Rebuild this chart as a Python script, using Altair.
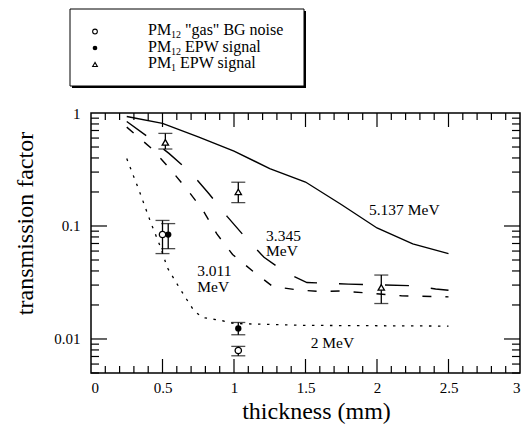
import altair as alt
import pandas as pd

# ---- curves: transmission factor vs. absorber thickness ----
e5137_x = [0.25, 0.5, 0.75, 1.0, 1.25, 1.5, 1.75, 2.0, 2.25, 2.5]
e5137_y = [0.93, 0.81, 0.615, 0.46, 0.322, 0.245, 0.155, 0.096, 0.0695, 0.057]

e3345_x = [0.25, 0.39, 0.545, 0.70, 0.825, 0.953, 1.08, 1.21, 1.36, 1.51, 1.66, 1.80, 2.26, 2.41, 2.5]
e3345_y = [0.84, 0.625, 0.439, 0.295, 0.193, 0.121, 0.079, 0.0528, 0.0389, 0.0316, 0.0311, 0.0306, 0.0296, 0.0277, 0.027]

e3011_x = [0.25, 0.42, 0.56, 0.68, 0.78, 0.88, 0.99, 1.13, 1.27, 1.44, 1.6, 1.75, 1.9, 2.17, 2.5]
e3011_y = [0.75, 0.49, 0.313, 0.204, 0.14, 0.085, 0.056, 0.040, 0.0292, 0.0272, 0.0263, 0.0266, 0.0257, 0.0241, 0.0236]

e2_x = [0.25, 0.336, 0.417, 0.487, 0.534, 0.615, 0.674, 0.72, 0.78, 0.92, 1.0, 1.5, 2.0, 2.5]
e2_y = [0.395, 0.207, 0.108, 0.0646, 0.0427, 0.0288, 0.0219, 0.0178, 0.0155, 0.0145, 0.0137, 0.0132, 0.0131, 0.0130]

# ---- measured points with error bars ----
gas_x = [0.50, 1.03]
gas_y = [0.084, 0.0079]
gas_lo = [0.057, 0.0071]
gas_hi = [0.112, 0.0086]

pm12_x = [0.54, 1.03]
pm12_y = [0.084, 0.0124]
pm12_lo = [0.063, 0.0109]
pm12_hi = [0.105, 0.0140]

pm1_x = [0.52, 1.03, 2.03]
pm1_y = [0.55, 0.20, 0.0286]
pm1_lo = [0.48, 0.161, 0.0206]
pm1_hi = [0.66, 0.244, 0.0368]

# ---- curve labels (one entry per text line) ----
lab_text = ["5.137 MeV", "3.345", "MeV", "3.011", "MeV", "2 MeV"]
lab_x = [1.944, 1.224, 1.224, 0.743, 0.743, 1.536]
lab_y = [0.124, 0.0743, 0.0540, 0.0363, 0.0263, 0.0083]

# ---- axis ticks ----
x_labels = [0, 0.5, 1, 1.5, 2, 2.5, 3]
x_major = [0.5, 1.0, 1.5, 2.0, 2.5]
x_minor = [round(0.1 * i, 1) for i in range(1, 30) if i % 5 != 0]
y_labels = [0.01, 0.1, 1]
y_major = [0.01, 0.1]
y_minor = [m * 10.0 ** e for e in (-3, -2, -1) for m in range(2, 10) if m * 10.0 ** e >= 0.005]

W, H = 429, 260
FONT = "'Liberation Serif', 'Times New Roman', Times, 'DejaVu Serif', serif"

xs = alt.Scale(domain=[0, 3], nice=False, zero=False)
ys = alt.Scale(type="log", domain=[0.005, 1], nice=False)

AX = alt.Axis(values=x_labels, format="~g", title="thickness  (mm)",
              titleX=225, titleY=38, titleBaseline="middle", titleAlign="center")
AY = alt.Axis(values=y_labels, format="~g", title="transmission  factor",
              titleX=-66, titleY=110, titleAngle=-90, titleBaseline="middle",
              titleAlign="center", labelPadding=11)


def X(field="x"):
    return alt.X(f"{field}:Q", scale=xs, axis=AX)


def Y(field="y"):
    return alt.Y(f"{field}:Q", scale=ys, axis=AY)


def curve(xv, yv, dash=None, width=1.4):
    props = dict(color="black", strokeWidth=width)
    if dash:
        props["strokeDash"] = dash
    return alt.Chart(pd.DataFrame({"x": xv, "y": yv})).mark_line(**props).encode(
        x=X(), y=Y()
    )


layers = [
    curve(e5137_x, e5137_y),
    curve(e3345_x, e3345_y, dash=[24, 22]),
    curve(e3011_x, e3011_y, dash=[9, 14]),
    curve(e2_x, e2_y, dash=[2.5, 6.5], width=1.3),
]


def errbars(xv, yv, lo, hi, shape, filled):
    df = pd.DataFrame({"x": xv, "y": yv, "lo": lo, "hi": hi})
    base = alt.Chart(df)
    rule = base.mark_rule(color="black", strokeWidth=1.3).encode(
        x=X(), y=Y("lo"), y2="hi:Q"
    )
    cap_lo = base.mark_tick(color="black", orient="horizontal", size=14, thickness=1.3).encode(
        x=X(), y=Y("lo")
    )
    cap_hi = base.mark_tick(color="black", orient="horizontal", size=14, thickness=1.3).encode(
        x=X(), y=Y("hi")
    )
    pt = base.mark_point(
        shape=shape, filled=filled, color="black", fill="black" if filled else "white",
        size=40, strokeWidth=1.3, opacity=1,
    ).encode(x=X(), y=Y())
    return [rule, cap_lo, cap_hi, pt]


layers += errbars(gas_x, gas_y, gas_lo, gas_hi, "circle", False)
layers += errbars(pm12_x, pm12_y, pm12_lo, pm12_hi, "circle", True)
layers += errbars(pm1_x, pm1_y, pm1_lo, pm1_hi, "triangle-up", False)

labels = alt.Chart(pd.DataFrame({"x": lab_x, "y": lab_y, "t": lab_text})).mark_text(
    font=FONT, fontSize=15.5, align="left", baseline="alphabetic", color="black",
).encode(x=X(), y=Y(), text="t:N")
layers.append(labels)

# inward ticks on all four sides
for vals, ln in ((x_major, 14), (x_minor, 7)):
    d = alt.Chart(pd.DataFrame({"x": vals}))
    layers.append(d.mark_rule(color="black", strokeWidth=1.2).encode(
        x=X(), y=alt.value(H), y2=alt.value(H - ln)))
    layers.append(d.mark_rule(color="black", strokeWidth=1.2).encode(
        x=X(), y=alt.value(0), y2=alt.value(ln)))
for vals, ln in ((y_major, 16), (y_minor, 8)):
    d = alt.Chart(pd.DataFrame({"y": vals}))
    layers.append(d.mark_rule(color="black", strokeWidth=1.2).encode(
        y=Y(), x=alt.value(0), x2=alt.value(ln)))
    layers.append(d.mark_rule(color="black", strokeWidth=1.2).encode(
        y=Y(), x=alt.value(W), x2=alt.value(W - ln)))

# legend box above the plot
one = pd.DataFrame({"k": [0]})
layers.append(alt.Chart(one).mark_rect(color="black").encode(
    x=alt.value(-19), x2=alt.value(215), y=alt.value(-102), y2=alt.value(-25)))
layers.append(alt.Chart(one).mark_rect(fill="white", stroke="black", strokeWidth=1).encode(
    x=alt.value(-21), x2=alt.value(213), y=alt.value(-104), y2=alt.value(-27)))

leg_head = ["PM", "PM", "PM"]
leg_sub = ["12", "12", "1"]
leg_tail = ['"gas" BG noise', "EPW  signal", "EPW  signal"]
leg_shape = ["circle", "circle", "triangle-up"]
leg_filled = [False, True, False]
leg_base = [-78, -61.5, -45]
leg_sub_x = [80, 80, 80]
leg_tail_x = [94, 94, 89]

for i in range(3):
    layers.append(alt.Chart(one).mark_point(
        shape=leg_shape[i], filled=leg_filled[i], color="black",
        fill="black" if leg_filled[i] else "white", size=22, strokeWidth=1.1, opacity=1,
    ).encode(x=alt.value(4), y=alt.value(leg_base[i] - 3.5)))
    for txt, xpos, dy, fs in ((leg_head[i], 57, 0, 16), (leg_sub[i], leg_sub_x[i], 3, 10),
                              (leg_tail[i], leg_tail_x[i], 0, 16)):
        layers.append(alt.Chart(pd.DataFrame({"t": [txt]})).mark_text(
            font=FONT, fontSize=fs, align="left", baseline="alphabetic", color="black",
        ).encode(x=alt.value(xpos), y=alt.value(leg_base[i] + dy), text="t:N"))

chart = alt.layer(*layers).properties(
    width=W, height=H,
    autosize=alt.AutoSizeParams(type="none"),
    padding={"left": 91, "top": 113, "right": 12, "bottom": 59},
    background="white",
).configure_view(stroke="black", strokeWidth=1.5).configure_axis(
    domain=False, ticks=False, grid=False, labelFont=FONT, labelFontSize=15,
    labelColor="black", labelPadding=7, titleFont=FONT, titleFontSize=24,
    titleFontWeight="normal", titleColor="black",
)

chart.save("out.html", embed_options={"renderer": "svg", "actions": False})
